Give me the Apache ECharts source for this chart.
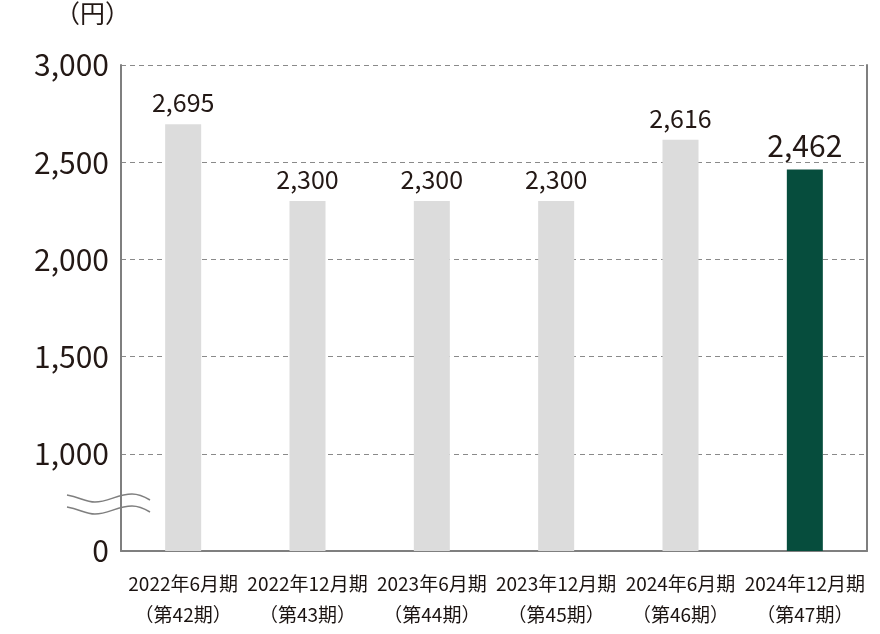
<!DOCTYPE html>
<html>
<head>
<meta charset="utf-8">
<script src="https://cdn.jsdelivr.net/npm/echarts@6/dist/echarts.min.js"></script>
<style>html,body{margin:0;padding:0;background:#fff}#c{width:880px;height:634px}</style>
</head>
<body>
<div id="c"></div>
<script>
var categories = ['2022年6月期\n（第42期）','2022年12月期\n（第43期）','2023年6月期\n（第44期）','2023年12月期\n（第45期）','2024年6月期\n（第46期）','2024年12月期\n（第47期）'];
var values = [2695, 2300, 2300, 2300, 2616, 2462];
var yTickValues = [500, 1000, 1500, 2000, 2500, 3000];
var yTickLabels = ['0', '1,000', '1,500', '2,000', '2,500', '3,000'];
var unitLabel = '（円）';

var FONT = '"Noto Sans CJK JP", "Noto Sans", sans-serif';
var TXT = '#231815';
var chart = echarts.init(document.getElementById('c'));
var data = values.map(function (v, i) {
  var last = i === values.length - 1;
  return {
    value: v,
    itemStyle: { color: last ? '#064d3d' : '#dcdcdc' },
    label: last ? { fontSize: 30, backgroundColor: '#fff', padding: [0, 4, 0, 4], distance: 9 } : {}
  };
});
function wave(dy) {
  var st = { fill: 'none', stroke: '#7f7f7f', lineWidth: 1.5 };
  return [
    { type: 'bezierCurve', shape: { x1: 67, y1: 495 + dy, cpx1: 80, cpy1: 497 + dy, cpx2: 85, cpy2: 502 + dy, x2: 95, y2: 502 + dy }, style: st },
    { type: 'bezierCurve', shape: { x1: 95, y1: 502 + dy, cpx1: 108, cpy1: 502 + dy, cpx2: 118, cpy2: 494 + dy, x2: 132, y2: 494 + dy }, style: st },
    { type: 'bezierCurve', shape: { x1: 132, y1: 494 + dy, cpx1: 140, cpy1: 494 + dy, cpx2: 145, cpy2: 497 + dy, x2: 150, y2: 500 + dy }, style: st }
  ];
}
chart.setOption({
  animation: false,
  grid: { left: 121, right: 13, top: 65, bottom: 83 },
  xAxis: {
    type: 'category',
    data: categories,
    axisLine: { lineStyle: { color: '#7f7f7f', width: 2 } },
    axisTick: { show: false },
    axisLabel: { fontFamily: FONT, fontSize: 19, color: '#1a1311', lineHeight: 31, margin: 17, interval: 0 }
  },
  yAxis: [{
    type: 'value',
    min: 500, max: 3000, interval: 500,
    axisLine: { show: true, lineStyle: { color: '#7f7f7f', width: 2 } },
    axisTick: { show: false },
    splitLine: { lineStyle: { color: '#8a8a8a', type: [5, 4], width: 1 } },
    axisLabel: {
      fontFamily: FONT, fontSize: 30, color: TXT, margin: 12,
      formatter: function (v) { var i = yTickValues.indexOf(v); return i >= 0 ? yTickLabels[i] : ''; }
    }
  }, {
    type: 'value', position: 'right',
    min: 500, max: 3000, interval: 500,
    axisLine: { show: true, lineStyle: { color: '#7f7f7f', width: 2 } },
    axisTick: { show: false }, axisLabel: { show: false }, splitLine: { show: false }
  }],
  series: [{
    type: 'bar',
    data: data,
    barWidth: 36,
    label: { show: true, position: 'top', fontFamily: FONT, fontSize: 25, color: TXT, distance: 9,
      formatter: function (p) { return p.value.toLocaleString('en-US'); } }
  }],
  graphic: [
    { type: 'text', x: 55, y: 1, style: { text: unitLabel, fontFamily: FONT, fontSize: 25, fill: TXT } }
  ].concat(wave(0), wave(12))
});
</script>
</body>
</html>
